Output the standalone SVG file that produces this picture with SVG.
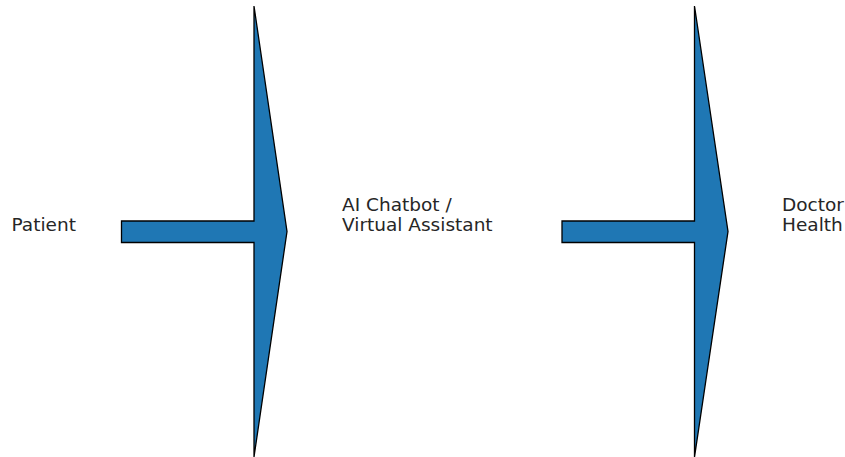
<svg xmlns="http://www.w3.org/2000/svg" width="845" height="457" viewBox="0 0 845 457">
  <style>
    .arrow { fill: #1f77b4; stroke: #000000; stroke-width: 1.3; stroke-linejoin: miter; }
    .label { font-family: "DejaVu Sans", sans-serif; font-size: 18.5px; fill: #262626; }
  </style>
  <rect x="0" y="0" width="845" height="457" fill="#ffffff"/>
  <g id="connectors">
    <polygon id="arrow1" class="arrow" points="121.5,221 254,221 254,6 287,231.5 254,457 254,242.5 121.5,242.5"/>
    <polygon id="arrow2" class="arrow" points="562,221 694.5,221 694.5,6 728,231.5 694.5,457 694.5,242.5 562,242.5"/>
  </g>
  <g id="node-patient">
    <text class="label" x="11.5" y="231">Patient</text>
  </g>
  <g id="node-chatbot">
    <text class="label" x="342" y="211">AI Chatbot /</text>
    <text class="label" x="342" y="231">Virtual Assistant</text>
  </g>
  <g id="node-doctor">
    <text class="label" x="782" y="211">Doctor</text>
    <text class="label" x="782" y="231">Health</text>
  </g>
</svg>
